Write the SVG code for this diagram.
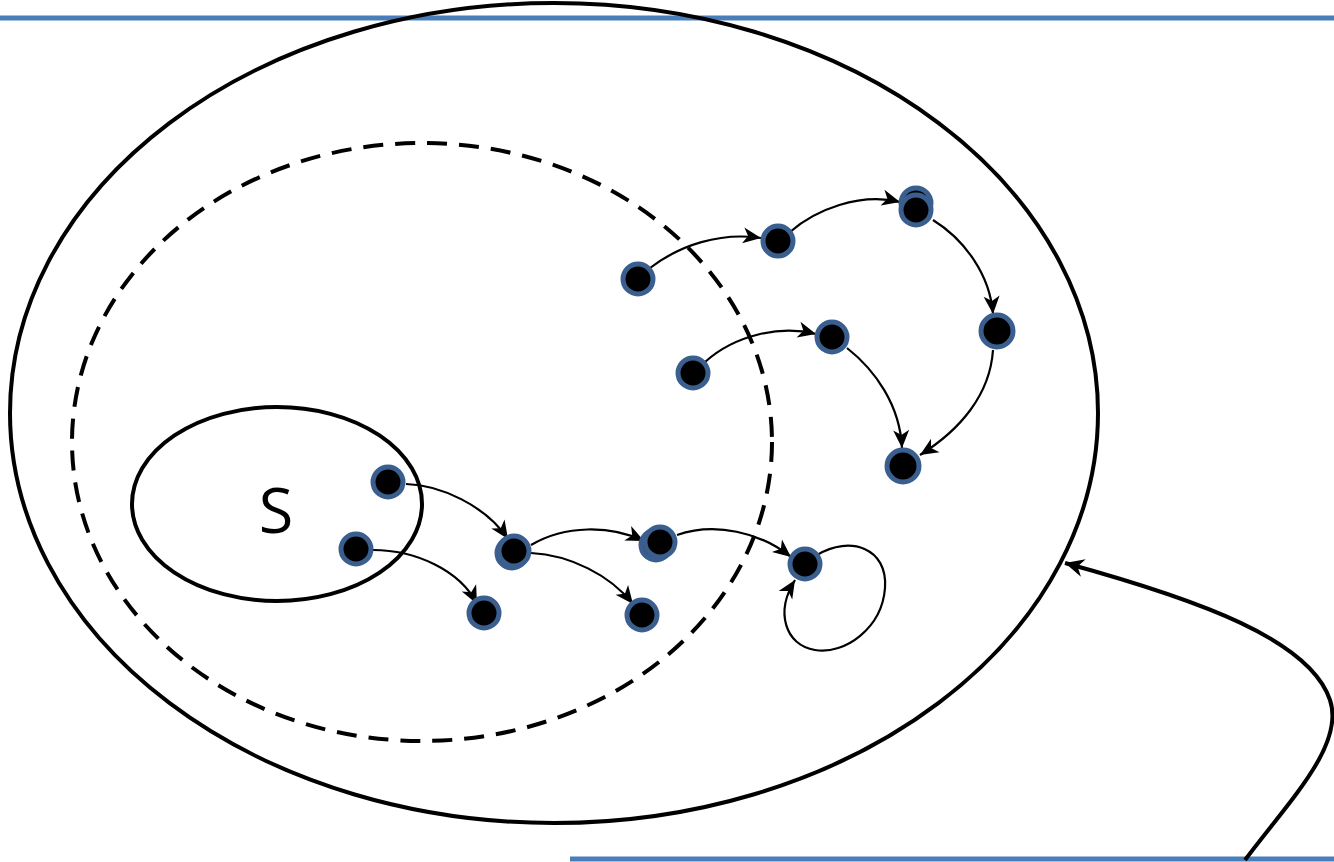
<svg xmlns="http://www.w3.org/2000/svg" width="1334" height="862" viewBox="0 0 1334 862">
<style>
.n{fill:#000;stroke:#3a5f8f;stroke-width:5}
.e{fill:none;stroke:#000;stroke-width:2.2;marker-end:url(#ah)}
.big{fill:none;stroke:#000;stroke-width:4}
.rule{stroke:#4a7ebb;stroke-width:5}
</style>
<defs>
<marker id="ah" markerUnits="userSpaceOnUse" markerWidth="24" markerHeight="24" viewBox="0 0 24 24" refX="19" refY="12" orient="auto">
<path d="M1,4 L19,12 L1,20 L6,12 Z" fill="#000"/>
</marker>
<marker id="ahBig" markerUnits="userSpaceOnUse" markerWidth="26" markerHeight="26" viewBox="0 0 26 26" refX="21" refY="13" orient="auto">
<path d="M2,4 L21,13 L2,22 L8,13 Z" fill="#000"/>
</marker>
</defs>
<line class="rule" x1="0" y1="18" x2="1334" y2="18"/>
<line class="rule" x1="570" y1="859" x2="1334" y2="859"/>
<g id="outer"><ellipse class="big" cx="554" cy="413" rx="544" ry="410"/></g>
<g id="dashed"><ellipse cx="422" cy="442" rx="350" ry="299" fill="none" stroke="#000" stroke-width="4" stroke-dasharray="20 12"/></g>
<g id="S"><ellipse class="big" cx="277" cy="504" rx="145" ry="97"/>
<text x="276" y="533" font-family="'Open Sans','Liberation Sans',sans-serif" font-size="63" text-anchor="middle">S</text></g>
<g id="connectors">
<path class="e" d="M650,268 C680,245 720,232 761,238"/>
<path class="e" d="M790,232 C815,210 860,192 900,202"/>
<path class="e" d="M933,220 C965,240 990,275 993,314"/>
<path class="e" d="M993,350 C990,395 960,430 920,455"/>
<path class="e" d="M705,362 C735,335 780,325 816,334"/>
<path class="e" d="M847,348 C875,370 900,405 902,448"/>
<path class="e" d="M406,484 C440,485 485,505 508,539"/>
<path class="e" d="M373,550 C415,550 460,570 477,604"/>
<path class="e" d="M531,545 C565,525 610,525 644,541"/>
<path class="e" d="M531,553 C570,555 610,575 633,604"/>
<path class="e" d="M677,535 C715,522 760,532 791,557"/>
<path class="e" d="M817,555 C850,535 888,548 885,588 C882,628 845,655 815,650 C785,645 775,612 795,580"/>
<path fill="none" stroke="#000" stroke-width="4" marker-end="url(#ahBig)" d="M1245,860 C1290,800 1345,745 1330,700 C1310,640 1200,600 1065,563"/>
</g>
<g id="n1"><circle class="n" cx="638" cy="279" r="15"/></g>
<g id="n2"><circle class="n" cx="778" cy="241" r="15"/></g>
<g id="n3"><circle class="n" cx="916" cy="203" r="15"/><circle class="n" cx="916" cy="210" r="15"/></g>
<g id="n4"><circle class="n" cx="997" cy="331" r="16"/></g>
<g id="n5"><circle class="n" cx="693" cy="373" r="15"/></g>
<g id="n6"><circle class="n" cx="832" cy="337" r="15"/></g>
<g id="n7"><circle class="n" cx="903" cy="466" r="16"/></g>
<g id="n8"><circle class="n" cx="388" cy="482" r="15"/></g>
<g id="n9"><circle class="n" cx="356" cy="549" r="15"/></g>
<g id="n10"><circle class="n" cx="512" cy="553" r="15"/><circle class="n" cx="514" cy="551" r="15"/></g>
<g id="n11"><circle class="n" cx="484" cy="613" r="15"/></g>
<g id="n12"><circle class="n" cx="656" cy="545" r="15"/><circle class="n" cx="660" cy="542" r="15"/></g>
<g id="n13"><circle class="n" cx="642" cy="615" r="15"/></g>
<g id="n14"><circle class="n" cx="805" cy="564" r="15"/></g>
</svg>
